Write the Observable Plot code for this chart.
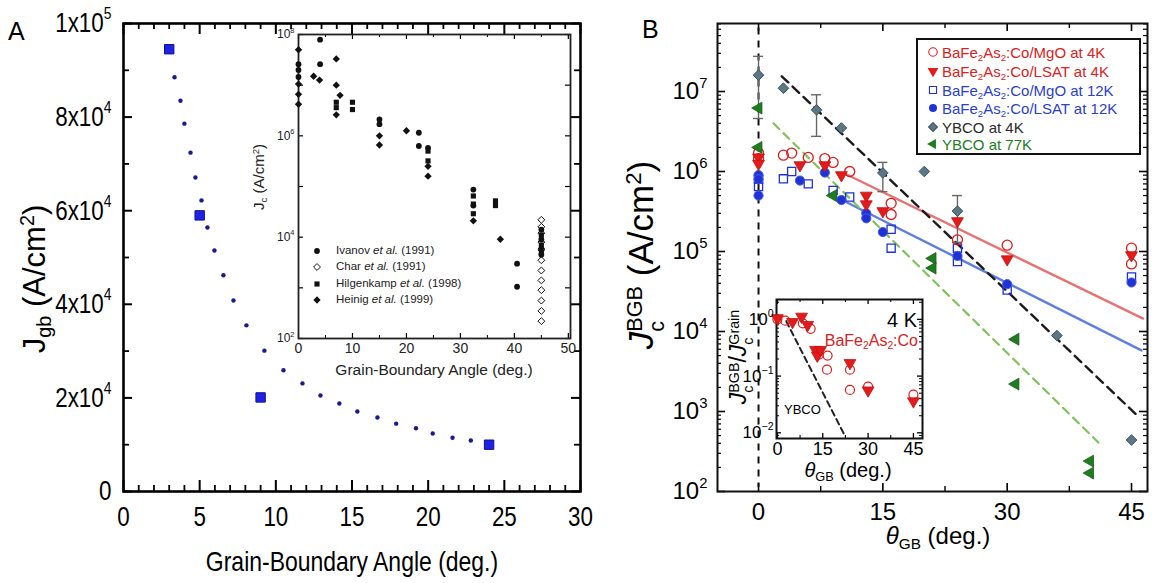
<!DOCTYPE html>
<html>
<head>
<meta charset="utf-8">
<script src="https://cdn.jsdelivr.net/npm/d3@7"></script>
<script src="https://cdn.jsdelivr.net/npm/@observablehq/plot@0.6"></script>
<style>
  html, body { margin: 0; padding: 0; background: #fff; }
  #root { position: relative; width: 1157px; height: 583px; overflow: hidden; background: #fff; font-family: 'Liberation Sans', Arial, sans-serif; }
  .t { position: absolute; white-space: nowrap; line-height: 1; }
</style>
</head>
<body>
<div id="root"></div>
<script>
// ================= DATA =================
// ---- Panel A (main) ----
const aSquareAngle = [3, 5, 9, 24];
const aSquareJgb = [94500, 59000, 20100, 10000];
const aCurveAngle = [3.35, 3.74, 4.0, 4.4, 4.72, 5.12, 5.51, 5.97, 6.56, 7.22, 8.07, 9.25, 10.5, 11.75, 12.93, 14.17, 15.35, 16.67, 17.9, 19.2, 20.3, 21.6, 22.8];
const aCurveJgb = [88500, 83500, 78600, 72400, 67100, 62200, 56400, 51500, 46200, 40800, 35500, 30100, 25900, 23100, 20500, 18800, 17100, 15800, 14500, 13500, 12400, 11500, 10900];
const aXTicks = [0, 5, 10, 15, 20, 25, 30];
const aYTicks = [0, 20000, 40000, 60000, 80000, 100000];
const aYTickLabels = ["0", "2x10^4", "4x10^4", "6x10^4", "8x10^4", "1x10^5"];
const aYMinor = [10000, 30000, 50000, 70000, 90000];

// ---- Panel A (inset) ----
const ivanovAngle = [0, 0, 0, 4, 4, 15, 15, 22.3, 22.3, 24, 32.4, 32.4, 40.5, 40.5, 45, 45, 45];
const ivanovJc = [2.6e7, 2.0e7, 1.45e7, 7.9e7, 2.6e7, 2.1e6, 1.7e6, 1.15e6, 6.3e5, 5.8e5, 8.7e4, 4.2e4, 3.0e3, 1.05e3, 1.4e4, 9e3, 4.5e3];
const charAngle = [45, 45, 45, 45, 45, 45, 45, 45, 45, 45, 45, 45];
const charJc = [2.2e4, 1.6e4, 1.2e4, 8e3, 5.6e3, 3.5e3, 2.2e3, 1.4e3, 9e2, 5.6e2, 3.5e2, 2.2e2];
const hilgenkampAngle = [7, 7, 10, 10, 24, 24, 32.4, 32.4, 32.4, 36.5, 36.5, 45, 45, 45];
const hilgenkampJc = [4.6e6, 3.6e6, 4.6e6, 3.3e6, 5e5, 3.2e5, 6.5e4, 4.5e4, 2.9e4, 5.2e4, 4.2e4, 1.1e4, 7e3, 5e3];
const heinigAngle = [0, 0, 0, 0, 2.8, 3.9, 7, 7, 7, 7.7, 15, 15, 20, 24, 24, 32.4, 37.4, 45];
const heinigJc = [5e7, 1.05e7, 6.6e6, 4.2e6, 1.5e7, 1.26e7, 3.3e7, 1e7, 2.6e6, 6.3e6, 1e6, 6.6e5, 1.26e6, 2.5e5, 1.6e5, 2.1e4, 9.1e3, 6e3];
const insetAXTicks = [0, 10, 20, 30, 40, 50];
const insetAYTicks = [1e2, 1e4, 1e6, 1e8];
const insetAYTickLabels = ["10^2", "10^4", "10^6", "10^8"];
const insetALegendNames = ["Ivanov", "Char", "Hilgenkamp", "Heinig"];
const insetALegendYears = ["1991", "1991", "1998", "1999"];

// ---- Panel B (main) ----
const bMgO4KAngle = [0, 0, 3, 4, 6, 8, 9, 11, 16, 16, 24, 30, 45, 45];
const bMgO4KJc = [1.7e6, 1.45e6, 1.6e6, 1.7e6, 1.5e6, 1.45e6, 1.3e6, 1.0e6, 4.0e5, 2.9e5, 1.4e5, 1.2e5, 1.1e5, 7.0e4];
const bLSAT4KAngle = [0, 0, 5, 8, 10, 13, 13, 15, 24, 30, 45];
const bLSAT4KJc = [1.5e6, 1.25e6, 1.2e6, 1.2e6, 9.0e5, 5.0e5, 3.9e5, 3.2e5, 2.4e5, 8.0e4, 9.0e4];
const bMgO12KAngle = [0, 0, 3, 4, 6, 9, 11, 16, 16, 24, 24, 30, 45];
const bMgO12KJc = [8.0e5, 6.5e5, 8.1e5, 1.0e6, 7.0e5, 5.8e5, 4.8e5, 1.9e5, 1.1e5, 1.1e5, 7.5e4, 3.3e4, 4.8e4];
const bLSAT12KAngle = [0, 0, 0, 5, 8, 10, 13, 13, 15, 24, 30, 45];
const bLSAT12KJc = [9.0e5, 8.0e5, 5.0e5, 7.7e5, 9.7e5, 4.4e5, 3.0e5, 2.6e5, 1.75e5, 8.8e4, 3.9e4, 4.1e4];
const bYBCO4KAngle = [0, 3, 7, 10, 15, 20, 24, 36, 45];
const bYBCO4KJc = [1.6e7, 1.1e7, 5.9e6, 3.5e6, 9.6e5, 1.0e6, 3.2e5, 8.9e3, 4.4e2];
const bYBCO4KErrAngle = [0, 7, 15, 24];
const bYBCO4KErrLow = [4.6e6, 2.75e6, 5.6e5, 1.3e5];
const bYBCO4KErrHigh = [2.75e7, 9.1e6, 1.3e6, 5.0e5];
const bYBCO77KAngle = [0, 0, 9, 21, 21, 31, 31, 40, 40];
const bYBCO77KJc = [6.2e6, 2.0e6, 5.0e5, 8.2e4, 6.2e4, 8.0e3, 2.2e3, 2.4e2, 1.7e2];
const bFit4KAngle = [10.5, 46.4], bFit4KJc = [9.3e5, 1.45e4];
const bFit12KAngle = [8.7, 46.2], bFit12KJc = [5.2e5, 5.8e3];
const bFitYBCO4KAngle = [2.8, 45.7], bFitYBCO4KJc = [1.55e7, 8.9e2];
const bFitYBCO77KAngle = [1.8, 41], bFitYBCO77KJc = [4.0e6, 4.1e2];
const bZeroLineJc = [6.2e7, 1.12e2];
const bXTicks = [0, 15, 30, 45];
const bXMinor = [7.5, 22.5, 37.5];
const bYTicks = [1e2, 1e3, 1e4, 1e5, 1e6, 1e7];
const bLegendLabels = ["BaFe_2As_2:Co/MgO at 4K", "BaFe_2As_2:Co/LSAT at 4K", "BaFe_2As_2:Co/MgO at 12K", "BaFe_2As_2:Co/LSAT at 12K", "YBCO at 4K", "YBCO at 77K"];

// ---- Panel B (inset) ----
const cLSATAngle = [0, 5, 8, 10, 12.6, 13.2, 14.3, 24, 30, 45];
const cLSATRatio = [1.05, 0.9, 1.12, 0.8, 0.29, 0.23, 0.29, 0.17, 0.056, 0.036];
const cMgOAngle = [0, 2.6, 8.4, 11, 13.7, 16.6, 16.4, 24, 24, 30, 45];
const cMgORatio = [1.0, 0.95, 0.85, 0.68, 0.24, 0.23, 0.13, 0.13, 0.057, 0.065, 0.047];
const cYBCOFitAngle = [2.9, 22.5], cYBCOFitRatio = [0.93, 0.0085];
const cXTicks = [0, 15, 30, 45];
const cYTicks = [0.01, 0.1, 1];

// ================= STYLE =================
const SANS = "'Liberation Sans', Arial, Helvetica, sans-serif";
const RED = "#e31b1b", RED_TXT = "#d92222", RED_FIT = "#e87272";
const BLUE = "#1d33d6", BLUE_TXT = "#2b3fcc", BLUE_FIT = "#5d7fe2";
const SLATE = "#5b7784", SLATE_DK = "#3c5561";
const GREEN = "#1e7e1e", GREEN_FIT = "#80c25c";
const W = 1157, H = 583;
const root = document.getElementById("root");

const pts = (xs, ys) => xs.map((x, i) => ({x, y: ys[i]}));
const logMinor = (lo, hi) => { const o = []; for (let e = Math.floor(Math.log10(lo)); e <= Math.ceil(Math.log10(hi)); e++) for (let m = 2; m <= 9; m++) { const v = m * 10 ** e; if (v > lo && v < hi) o.push(v); } return o; };
const box = (l, t, r, b) => ({width: W, height: H, marginLeft: l, marginTop: t, marginRight: W - r, marginBottom: H - b});

// custom triangle symbols
const triDown = {draw(ctx, size) { const s = Math.sqrt(size / (Math.sqrt(3) / 4)), h = s * Math.sqrt(3) / 2; ctx.moveTo(0, h * 2 / 3); ctx.lineTo(s / 2, -h / 3); ctx.lineTo(-s / 2, -h / 3); ctx.closePath(); }};
const triLeft = {draw(ctx, size) { const s = Math.sqrt(size / (Math.sqrt(3) / 4)), h = s * Math.sqrt(3) / 2; ctx.moveTo(-h * 2 / 3, 0); ctx.lineTo(h / 3, -s / 2); ctx.lineTo(h / 3, s / 2); ctx.closePath(); }};

// frame ticks (inward) using rules
function frameTicks({xs, ys, xmin, xmax, ymin, ymax, len, sw = 1.5, sides = "lrtb"}) {
  const m = [];
  if (xs) {
    if (sides.includes("b")) m.push(Plot.ruleX(xs, {x: d => d, y1: ymin, y2: ymin, insetBottom: len, stroke: "#000", strokeWidth: sw}));
    if (sides.includes("t")) m.push(Plot.ruleX(xs, {x: d => d, y1: ymax, y2: ymax, insetBottom: -len, stroke: "#000", strokeWidth: sw}));
  }
  if (ys) {
    if (sides.includes("l")) m.push(Plot.ruleY(ys, {y: d => d, x1: xmin, x2: xmin, insetRight: -len, stroke: "#000", strokeWidth: sw}));
    if (sides.includes("r")) m.push(Plot.ruleY(ys, {y: d => d, x1: xmax, x2: xmax, insetRight: len, stroke: "#000", strokeWidth: sw}));
  }
  return m;
}

function mount(opts, squeeze = 1) {
  const svg = Plot.plot({...opts, style: {background: "transparent", overflow: "visible", fontFamily: SANS}});
  Object.assign(svg.style, {position: "absolute", left: "0px", top: "0px", background: "transparent", overflow: "visible", maxWidth: "none"});
  svg.querySelectorAll("text").forEach(t => {
    const s = t.textContent, k = s.indexOf("^");
    if (k >= 0) {
      t.textContent = s.slice(0, k);
      const ts = document.createElementNS("http://www.w3.org/2000/svg", "tspan");
      ts.setAttribute("dy", "-0.75em");
      ts.setAttribute("font-size", "0.62em");
      ts.textContent = s.slice(k + 1);
      t.appendChild(ts);
    }
    if (squeeze !== 1) {
      let tr = t.getAttribute("transform") || "";
      if (!/translate/.test(tr) && (t.hasAttribute("x") || t.hasAttribute("y"))) {
        tr = `translate(${t.getAttribute("x") || 0},${t.getAttribute("y") || 0}) ` + tr;
        t.removeAttribute("x"); t.removeAttribute("y");
      }
      t.setAttribute("transform", `${tr} scale(${squeeze},1)`);
    }
  });
  root.appendChild(svg);
}

const sup = s => `<span style="position:relative;top:-0.55em;font-size:0.64em">${s}</span>`;
const sub = s => `<span style="position:relative;top:0.3em;font-size:0.64em">${s}</span>`;
const stack = (a, b) => `<span style="display:inline-block;vertical-align:-0.3em;line-height:0.62em;text-align:left;font-style:normal"><span style="display:block;font-size:0.62em">${a}</span><span style="display:block;font-size:0.62em">${b}</span></span>`;
const chem = s => s.replace(/_(\d)/g, (m, d) => sub(d));

function put(html, x, y, {size = 14, family = SANS, color = "#000", anchor = "middle", rotate = 0, sx = 1, extra = ""} = {}) {
  const d = document.createElement("div");
  d.className = "t";
  d.innerHTML = html;
  const tx = anchor === "start" ? "0" : anchor === "end" ? "-100%" : "-50%";
  d.style.cssText += `left:${x}px;top:${y}px;font-size:${size}px;font-family:${family};color:${color};transform:translate(${tx},-50%) rotate(${rotate}deg) scale(${sx},1);${extra}`;
  root.appendChild(d);
}

function symbolSVG(sym, r, fill, stroke, sw = 1.2) {
  const p = d3.symbol(sym, Math.PI * r * r)();
  return `<svg width="16" height="16" viewBox="-8 -8 16 16" style="overflow:visible;display:block"><path d="${p}" fill="${fill}" stroke="${stroke || "none"}" stroke-width="${sw}"/></svg>`;
}
function putSymbol(sym, r, fill, stroke, x, y, sw) {
  const d = document.createElement("div");
  d.className = "t";
  d.style.cssText += `left:${x - 8}px;top:${y - 8}px;width:16px;height:16px;`;
  d.innerHTML = symbolSVG(sym, r, fill, stroke, sw);
  root.appendChild(d);
}

// ================= PANEL A (main) =================
const aLabel = new Map(aYTicks.map((v, i) => [v, aYTickLabels[i]]));
const aXMinor = d3.range(0, 31).filter(v => v % 5 !== 0);
mount({
  ...box(123, 23, 580, 491),
  x: {domain: [0, 30]},
  y: {domain: [0, 100000]},
  marks: [
    ...frameTicks({xs: aXTicks, xmin: 0, xmax: 30, ymin: 0, ymax: 100000, len: 11, sw: 2, sides: "tb"}),
    ...frameTicks({xs: aXMinor, xmin: 0, xmax: 30, ymin: 0, ymax: 100000, len: 6, sw: 1.8, sides: "tb"}),
    ...frameTicks({ys: aYTicks, xmin: 0, xmax: 30, ymin: 0, ymax: 100000, len: 9, sw: 2, sides: "lr"}),
    ...frameTicks({ys: aYMinor, xmin: 0, xmax: 30, ymin: 0, ymax: 100000, len: 6, sw: 1.8, sides: "lr"}),
    Plot.frame({stroke: "#000", strokeWidth: 2.6}),
    Plot.dot(pts(aCurveAngle, aCurveJgb), {x: "x", y: "y", r: 2.2, fill: "#1a1a8e", stroke: "none"}),
    Plot.dot(pts(aSquareAngle, aSquareJgb), {x: "x", y: "y", symbol: "square", r: 5.3, fill: "#1f22e6", stroke: "#10128c", strokeWidth: 1}),
    Plot.axisX({ticks: aXTicks, tickSize: 0, tickPadding: 15, fontSize: 28, label: null}),
    Plot.axisY({ticks: aYTicks, tickFormat: d => aLabel.get(d), tickSize: 0, tickPadding: 12, fontSize: 28, label: null})
  ]
}, 0.8);

// ================= PANEL A (inset) =================
const iaLabel = new Map(insetAYTicks.map((v, i) => [v, insetAYTickLabels[i]]));
mount({
  ...box(298, 34, 570, 338),
  x: {domain: [0, 50.4]},
  y: {type: "log", domain: [1e2, 1e8]},
  marks: [
    Plot.frame({fill: "#fff", stroke: null}),
    ...frameTicks({xs: insetAXTicks, xmin: 0, xmax: 50.4, ymin: 1e2, ymax: 1e8, len: 5, sw: 1.2, sides: "tb"}),
    ...frameTicks({xs: [5, 15, 25, 35, 45], xmin: 0, xmax: 50.4, ymin: 1e2, ymax: 1e8, len: 3, sw: 1, sides: "tb"}),
    ...frameTicks({ys: [1e2, 1e3, 1e4, 1e5, 1e6, 1e7, 1e8], xmin: 0, xmax: 50.4, ymin: 1e2, ymax: 1e8, len: 5, sw: 1.2, sides: "lr"}),
    Plot.frame({stroke: "#222", strokeWidth: 1.8}),
    Plot.dot(pts(charAngle, charJc), {x: "x", y: "y", symbol: "diamond2", r: 3.1, fill: "#fff", stroke: "#111", strokeWidth: 1}),
    Plot.dot(pts(hilgenkampAngle, hilgenkampJc), {x: "x", y: "y", symbol: "square", r: 2.9, fill: "#111"}),
    Plot.dot(pts(heinigAngle, heinigJc), {x: "x", y: "y", symbol: "diamond2", r: 3.3, fill: "#111"}),
    Plot.dot(pts(ivanovAngle, ivanovJc), {x: "x", y: "y", symbol: "circle", r: 2.9, fill: "#111"}),
    Plot.axisX({ticks: insetAXTicks, tickSize: 0, tickPadding: 5, fontSize: 14, fill: "#222", label: null}),
    Plot.axisY({ticks: insetAYTicks, tickFormat: d => iaLabel.get(d), tickSize: 0, tickPadding: 4, fontSize: 12, fill: "#222", label: null})
  ]
});

// ================= PANEL B (main) =================
const bY = d3.format("d");
mount({
  ...box(717, 23, 1147, 491),
  x: {domain: [-4.95, 46.93]},
  y: {type: "log", domain: [1e2, 7.08e7]},
  marks: [
    ...frameTicks({xs: bXTicks, xmin: -4.95, xmax: 46.93, ymin: 1e2, ymax: 7.08e7, len: 8, sw: 1.6, sides: "tb"}),
    ...frameTicks({xs: bXMinor, xmin: -4.95, xmax: 46.93, ymin: 1e2, ymax: 7.08e7, len: 5, sw: 1.4, sides: "tb"}),
    ...frameTicks({ys: bYTicks, xmin: -4.95, xmax: 46.93, ymin: 1e2, ymax: 7.08e7, len: 8, sw: 1.6, sides: "lr"}),
    ...frameTicks({ys: logMinor(1e2, 7.08e7), xmin: -4.95, xmax: 46.93, ymin: 1e2, ymax: 7.08e7, len: 4, sw: 1.2, sides: "lr"}),
    Plot.frame({stroke: "#111", strokeWidth: 2}),
    Plot.ruleX([0], {x: d => d, y1: bZeroLineJc[0], y2: bZeroLineJc[1], stroke: "#111", strokeWidth: 2, strokeDasharray: "7,6"}),
    Plot.line(pts(bFit4KAngle, bFit4KJc), {x: "x", y: "y", stroke: RED_FIT, strokeWidth: 2.4}),
    Plot.line(pts(bFit12KAngle, bFit12KJc), {x: "x", y: "y", stroke: BLUE_FIT, strokeWidth: 2.4}),
    Plot.line(pts(bFitYBCO77KAngle, bFitYBCO77KJc), {x: "x", y: "y", stroke: GREEN_FIT, strokeWidth: 2.2, strokeDasharray: "8,6"}),
    Plot.line(pts(bFitYBCO4KAngle, bFitYBCO4KJc), {x: "x", y: "y", stroke: "#1a1a1a", strokeWidth: 2.4, strokeDasharray: "9,6"}),
    Plot.ruleX(bYBCO4KErrAngle.map((a, i) => ({a, lo: bYBCO4KErrLow[i], hi: bYBCO4KErrHigh[i]})), {x: "a", y1: "lo", y2: "hi", stroke: "#666", strokeWidth: 1.4}),
    Plot.ruleY(bYBCO4KErrAngle.map((a, i) => ({a, v: bYBCO4KErrLow[i]})), {y: "v", x1: "a", x2: "a", insetLeft: -5, insetRight: -5, stroke: "#666", strokeWidth: 1.4}),
    Plot.ruleY(bYBCO4KErrAngle.map((a, i) => ({a, v: bYBCO4KErrHigh[i]})), {y: "v", x1: "a", x2: "a", insetLeft: -5, insetRight: -5, stroke: "#666", strokeWidth: 1.4}),
    Plot.dot(pts(bMgO12KAngle, bMgO12KJc), {x: "x", y: "y", symbol: "square", r: 4.6, fill: "#fff", fillOpacity: 0, stroke: BLUE, strokeWidth: 1.3}),
    Plot.dot(pts(bLSAT12KAngle, bLSAT12KJc), {x: "x", y: "y", symbol: "circle", r: 4.6, fill: BLUE, stroke: "#4a5ae0", strokeWidth: 1}),
    Plot.dot(pts(bMgO4KAngle, bMgO4KJc), {x: "x", y: "y", symbol: "circle", r: 5, fill: "none", stroke: RED, strokeWidth: 1.3}),
    Plot.dot(pts(bLSAT4KAngle, bLSAT4KJc), {x: "x", y: "y", symbol: triDown, r: 4.4, fill: RED, stroke: "#c01010", strokeWidth: 0.8}),
    Plot.dot(pts(bYBCO4KAngle, bYBCO4KJc), {x: "x", y: "y", symbol: "diamond2", r: 4.8, fill: SLATE, stroke: SLATE_DK, strokeWidth: 1}),
    Plot.dot(pts(bYBCO77KAngle, bYBCO77KJc), {x: "x", y: "y", symbol: triLeft, r: 4.4, fill: GREEN, stroke: "#145c14", strokeWidth: 0.8}),
    Plot.axisX({ticks: bXTicks, tickSize: 0, tickPadding: 11, fontSize: 24, label: null}),
    Plot.axisY({ticks: bYTicks, tickFormat: d => "10^" + bY(Math.round(Math.log10(d))), tickSize: 0, tickPadding: 10, fontSize: 24, label: null})
  ]
});

// ================= PANEL B (inset) =================
mount({
  ...box(776, 299, 922, 438),
  x: {domain: [-0.3, 48]},
  y: {type: "log", domain: [0.00794, 2.24]},
  marks: [
    Plot.frame({fill: "#fff", stroke: null}),
    ...frameTicks({xs: cXTicks, xmin: -0.3, xmax: 48, ymin: 0.00794, ymax: 2.24, len: 5, sw: 1.3, sides: "tb"}),
    ...frameTicks({xs: [7.5, 22.5, 37.5], xmin: -0.3, xmax: 48, ymin: 0.00794, ymax: 2.24, len: 3, sw: 1.1, sides: "tb"}),
    ...frameTicks({ys: cYTicks, xmin: -0.3, xmax: 48, ymin: 0.00794, ymax: 2.24, len: 5, sw: 1.3, sides: "lr"}),
    ...frameTicks({ys: logMinor(0.00794, 2.24), xmin: -0.3, xmax: 48, ymin: 0.00794, ymax: 2.24, len: 3, sw: 1, sides: "lr"}),
    Plot.frame({stroke: "#111", strokeWidth: 2}),
    Plot.line(pts(cYBCOFitAngle, cYBCOFitRatio), {x: "x", y: "y", stroke: "#222", strokeWidth: 2, strokeDasharray: "6,4", clip: true}),
    Plot.dot(pts(cMgOAngle, cMgORatio), {x: "x", y: "y", symbol: "circle", r: 4.5, fill: "none", stroke: RED, strokeWidth: 1.2}),
    Plot.dot(pts(cLSATAngle, cLSATRatio), {x: "x", y: "y", symbol: triDown, r: 4.4, fill: RED, stroke: "#c01010", strokeWidth: 0.8}),
    Plot.axisX({ticks: cXTicks, tickSize: 0, tickPadding: 4, fontSize: 18, label: null}),
    Plot.axisY({ticks: cYTicks, tickFormat: d => "10^" + bY(Math.round(Math.log10(d))), tickSize: 0, tickPadding: 3, fontSize: 17, label: null})
  ]
});

// ================= TEXT / LEGENDS =================
// Panel A
put("A", 8, 31, {size: 25, anchor: "start"});
put("Grain-Boundary Angle (deg.)", 352, 562, {size: 28, sx: 0.82});
put(`J${sub("gb")} (A/cm${sup("2")})`, 34, 279, {size: 31, rotate: -90});
// Inset A
put("Grain-Boundary Angle (deg.)", 434, 370, {size: 15.5, color: "#222"});
put(`J${sub("c")} (A/cm${sup("2")})`, 258, 177, {size: 15, rotate: -90, color: "#222"});
const iaSyms = [[d3.symbolCircle, 2.9, "#111", null], [d3.symbolDiamond2, 3.1, "#fff", "#111"], [d3.symbolSquare, 2.9, "#111", null], [d3.symbolDiamond2, 3.3, "#111", null]];
const iaRows = [251, 267, 284, 300];
insetALegendNames.forEach((n, i) => {
  putSymbol(iaSyms[i][0], iaSyms[i][1], iaSyms[i][2], iaSyms[i][3], 317, iaRows[i], 1);
  put(`${n} <i>et al.</i> (${insetALegendYears[i]})`, 336, iaRows[i], {size: 11.5, anchor: "start", color: "#222"});
});

// Panel B
put("B", 642, 29, {size: 25, anchor: "start"});
put(`<i>θ</i>${sub("GB")} (deg.)`, 938, 536, {size: 24});
put(`<i>J</i>${stack("BGB", "c")} (A/cm${sup("2")})`, 645, 255, {size: 35, rotate: -90});
// Legend B
const lg = document.createElement("div");
lg.style.cssText = "position:absolute;left:916px;top:38px;width:225px;height:117px;border:2px solid #111;background:#fff;box-sizing:border-box;";
root.appendChild(lg);
const bRows = [52, 71, 90, 108, 127, 144];
const bLegendColors = [RED_TXT, RED_TXT, BLUE_TXT, BLUE_TXT, "#2a2a2a", GREEN];
const bLegendSyms = [
  [d3.symbolCircle, 4.2, "#fff", RED],
  [triDown, 4, RED, null],
  [d3.symbolSquare, 4, "#fff", BLUE],
  [d3.symbolCircle, 4, BLUE, null],
  [d3.symbolDiamond2, 4, SLATE, SLATE_DK],
  [triLeft, 3.8, GREEN, null]
];
bLegendLabels.forEach((s, i) => {
  const [sym, r, f, st] = bLegendSyms[i];
  putSymbol(sym, r, f, st, 933, bRows[i], 1.1);
  put(chem(s), 942, bRows[i], {size: 15, anchor: "start", color: bLegendColors[i]});
});
// Inset B text
put("4 K", 917, 320, {size: 20, anchor: "end"});
put(chem("BaFe_2As_2:Co"), 918, 341, {size: 16, anchor: "end", color: RED_TXT});
put("YBCO", 784, 409, {size: 13, anchor: "start"});
put(`<i>θ</i>${sub("GB")} (deg.)`, 848, 470, {size: 20});
put(`<i>J</i>${stack("BGB", "c")}/<i>J</i>${stack("Grain", "c")}`, 741, 357, {size: 23, rotate: -90});
</script>
</body>
</html>
